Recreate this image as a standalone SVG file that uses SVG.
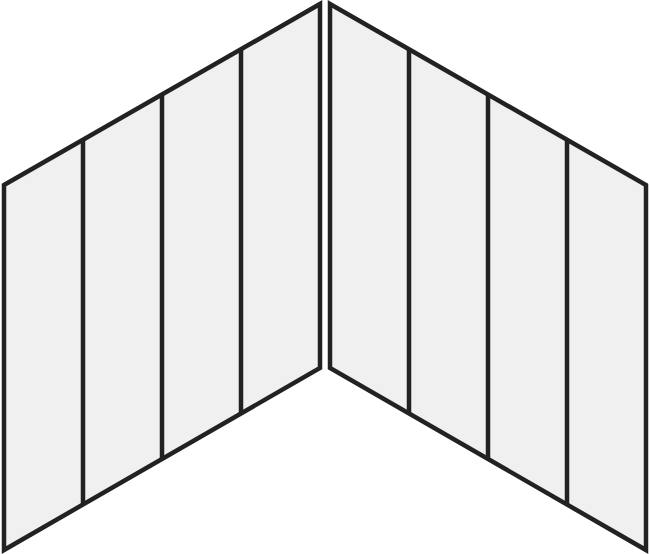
<svg xmlns="http://www.w3.org/2000/svg" width="650" height="554" viewBox="0 0 650 554">
<style>
.panel{fill:#f0f0f0;stroke:#222;stroke-width:4.5;stroke-linejoin:miter}
.div{stroke:#222;stroke-width:4.5;fill:none}
</style>
<rect width="650" height="554" fill="#fff"/>
<g id="left-panel">
<polygon class="panel" points="4,185 320,4 320,368 4,550"/>
<line class="div" x1="83" y1="140" x2="83" y2="505"/>
<line class="div" x1="162" y1="95" x2="162" y2="459"/>
<line class="div" x1="241" y1="49" x2="241" y2="414"/>
</g>
<g id="right-panel">
<polygon class="panel" points="330,4 646,185 646,550 330,368"/>
<line class="div" x1="409" y1="49" x2="409" y2="413"/>
<line class="div" x1="488" y1="95" x2="488" y2="459"/>
<line class="div" x1="567" y1="140" x2="567" y2="505"/>
</g>
</svg>
